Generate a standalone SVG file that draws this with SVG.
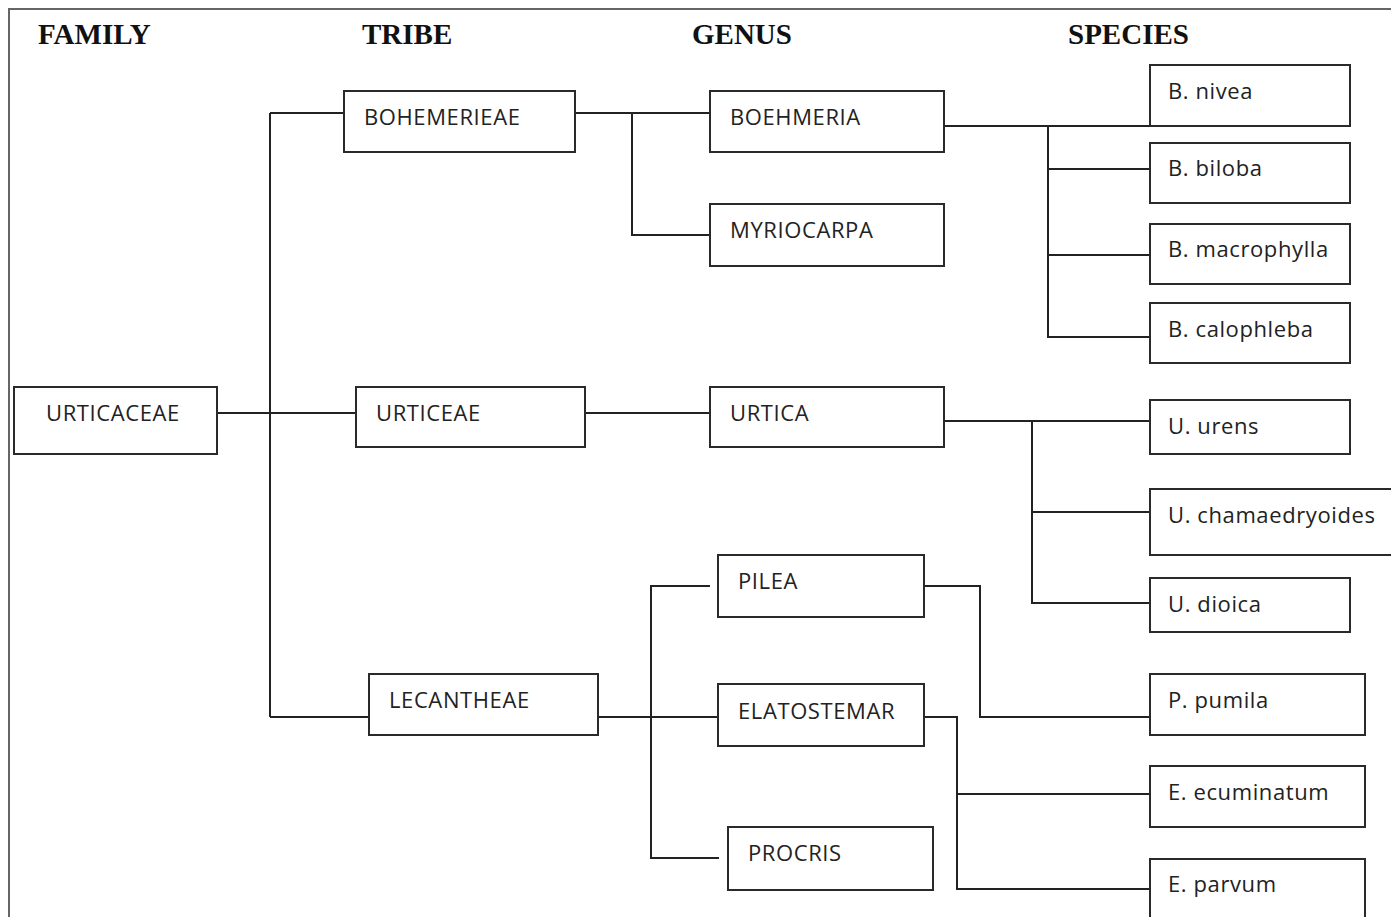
<svg xmlns="http://www.w3.org/2000/svg" width="1391" height="917" viewBox="0 0 1391 917">
<style>
.hd{font-family:"Liberation Serif","Times New Roman",serif;font-weight:bold;font-size:29px;fill:#111}
.bx{fill:#fff;stroke:#2a2a2a;stroke-width:2}
.tx{font-family:"Open Sans","Noto Sans",sans-serif;font-size:22px;letter-spacing:0.6px;fill:#222}
.ln{fill:none;stroke:#222;stroke-width:2}
</style>
<rect width="1391" height="917" fill="#fff"/>
<path d="M9,917 V9 H1391" fill="none" stroke="#666" stroke-width="2"/>
<g id="headers">
<text class="hd" x="38" y="44">FAMILY</text>
<text class="hd" x="362" y="44">TRIBE</text>
<text class="hd" x="692" y="44">GENUS</text>
<text class="hd" x="1068" y="44">SPECIES</text>
</g>
<g id="connectors">
<path class="ln" d="M217,413 H356"/>
<path class="ln" d="M270,113 V717"/>
<path class="ln" d="M270,113 H344"/>
<path class="ln" d="M270,717 H369"/>
<path class="ln" d="M575,113 H710"/>
<path class="ln" d="M632,113 V235 H710"/>
<path class="ln" d="M585,413 H710"/>
<path class="ln" d="M944,126 H1150"/>
<path class="ln" d="M1048,126 V337 H1150"/>
<path class="ln" d="M1048,169 H1150"/>
<path class="ln" d="M1048,255 H1150"/>
<path class="ln" d="M944,421 H1150"/>
<path class="ln" d="M1032,421 V603 H1150"/>
<path class="ln" d="M1032,512 H1150"/>
<path class="ln" d="M598,717 H718"/>
<path class="ln" d="M710,586 H651 V858 H719"/>
<path class="ln" d="M924,586 H980 V717 H1150"/>
<path class="ln" d="M924,717 H957 V889 H1150"/>
<path class="ln" d="M957,794 H1150"/>
</g>
<g id="n-urticaceae"><rect class="bx" x="14" y="387" width="203" height="67"/><text class="tx" x="46" y="421">URTICACEAE</text></g>
<g id="n-bohemerieae"><rect class="bx" x="344" y="91" width="231" height="61"/><text class="tx" x="364" y="125">BOHEMERIEAE</text></g>
<g id="n-urticeae"><rect class="bx" x="356" y="387" width="229" height="60"/><text class="tx" x="376" y="421">URTICEAE</text></g>
<g id="n-lecantheae"><rect class="bx" x="369" y="674" width="229" height="61"/><text class="tx" x="389" y="708">LECANTHEAE</text></g>
<g id="n-boehmeria"><rect class="bx" x="710" y="91" width="234" height="61"/><text class="tx" x="730" y="125">BOEHMERIA</text></g>
<g id="n-myriocarpa"><rect class="bx" x="710" y="204" width="234" height="62"/><text class="tx" x="730" y="238">MYRIOCARPA</text></g>
<g id="n-urtica"><rect class="bx" x="710" y="387" width="234" height="60"/><text class="tx" x="730" y="421">URTICA</text></g>
<g id="n-pilea"><rect class="bx" x="718" y="555" width="206" height="62"/><text class="tx" x="738" y="589">PILEA</text></g>
<g id="n-elatostemar"><rect class="bx" x="718" y="684" width="206" height="62"/><text class="tx" x="738" y="719">ELATOSTEMAR</text></g>
<g id="n-procris"><rect class="bx" x="728" y="827" width="205" height="63"/><text class="tx" x="748" y="861">PROCRIS</text></g>
<g id="n-bnivea"><rect class="bx" x="1150" y="65" width="200" height="61"/><text class="tx" x="1168" y="99">B. nivea</text></g>
<g id="n-bbiloba"><rect class="bx" x="1150" y="143" width="200" height="60"/><text class="tx" x="1168" y="176">B. biloba</text></g>
<g id="n-bmacrophylla"><rect class="bx" x="1150" y="224" width="200" height="60"/><text class="tx" x="1168" y="257">B. macrophylla</text></g>
<g id="n-bcalophleba"><rect class="bx" x="1150" y="303" width="200" height="60"/><text class="tx" x="1168" y="337">B. calophleba</text></g>
<g id="n-uurens"><rect class="bx" x="1150" y="400" width="200" height="54"/><text class="tx" x="1168" y="434">U. urens</text></g>
<g id="n-uchamaedryoides"><rect class="bx" x="1150" y="489" width="245" height="66"/><text class="tx" x="1168" y="523">U. chamaedryoides</text></g>
<g id="n-udioica"><rect class="bx" x="1150" y="578" width="200" height="54"/><text class="tx" x="1168" y="612">U. dioica</text></g>
<g id="n-ppumila"><rect class="bx" x="1150" y="674" width="215" height="61"/><text class="tx" x="1168" y="708">P. pumila</text></g>
<g id="n-eecuminatum"><rect class="bx" x="1150" y="766" width="215" height="61"/><text class="tx" x="1168" y="800">E. ecuminatum</text></g>
<g id="n-eparvum"><rect class="bx" x="1150" y="859" width="215" height="70"/><text class="tx" x="1168" y="892">E. parvum</text></g>
</svg>
